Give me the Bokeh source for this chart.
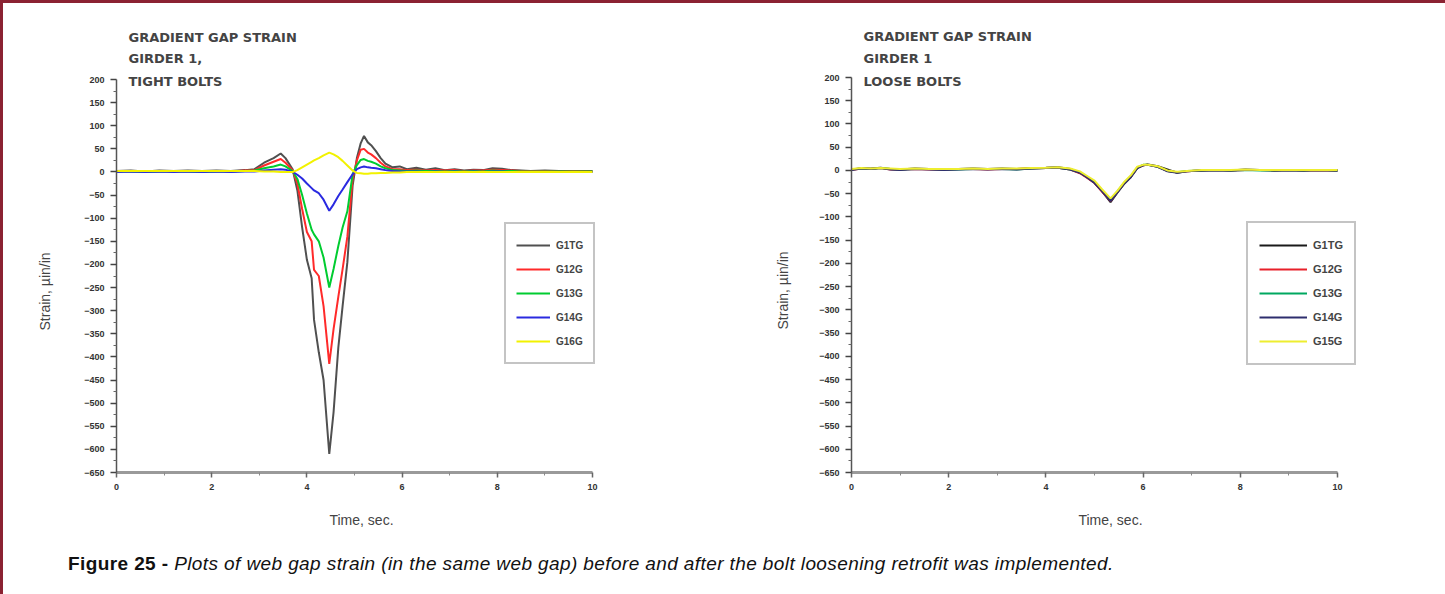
from bokeh.plotting import figure
from bokeh.models import FixedTicker, Label, Legend, LegendItem, Div, Title
from bokeh.layouts import column, row
from bokeh.embed import file_html
from bokeh.resources import INLINE

# ---------------- data ----------------
y_ticks = [200, 150, 100, 50, 0, -50, -100, -150, -200, -250, -300, -350,
           -400, -450, -500, -550, -600, -650]
x_ticks = [0, 2, 4, 6, 8, 10]

left_names = ["G1TG", "G12G", "G13G", "G14G", "G16G"]
right_names = ["G1TG", "G12G", "G13G", "G14G", "G15G"]

t_left = [0.0, 0.3, 0.6, 0.9, 1.2, 1.5, 1.8, 2.1, 2.4, 2.7,
          2.9, 3.1, 3.3, 3.45, 3.55, 3.7,
          3.8, 3.9, 4.0, 4.1, 4.15, 4.25, 4.35, 4.47,
          4.56, 4.66, 4.75, 4.85, 4.96,
          5.05, 5.13, 5.2, 5.28, 5.35, 5.45, 5.55, 5.65, 5.8, 5.95,
          6.1, 6.3, 6.5, 6.7, 6.9, 7.1, 7.3, 7.5, 7.7, 7.9,
          8.1, 8.3, 8.5, 8.7, 9.0, 9.3, 9.6, 10.0]

g1tg_left = [2, 3, 1, 3, 2, 3, 2, 3, 2, 4,
             6, 20, 30, 40, 30, 6,
             -40, -120, -190, -230, -320, -390, -450, -610,
             -520, -380, -290, -195, -30,
             30, 62, 78, 64, 58, 45, 30, 18, 10, 12,
             6, 9, 5, 8, 4, 6, 3, 5, 4, 8,
             7, 4, 3, 2, 3, 2, 2, 2]
g12g_left = [1, 2, 1, 2, 1, 2, 1, 2, 1, 3,
             4, 14, 22, 28, 20, 4,
             -25, -80, -130, -150, -212, -225, -290, -415,
             -340, -270, -210, -140, -15,
             25, 48, 50, 42, 38, 30, 20, 12, 6, 6,
             4, 5, 3, 4, 3, 4, 2, 3, 3, 5,
             4, 3, 2, 2, 2, 1, 2, 1]
g13g_left = [1, 1, 0, 1, 1, 1, 0, 1, 1, 2,
             3, 8, 12, 16, 12, 2,
             -15, -50, -90, -125, -135, -150, -185, -250,
             -210, -160, -120, -85, -5,
             15, 26, 28, 24, 22, 18, 12, 8, 4, 3,
             2, 3, 2, 2, 1, 2, 1, 2, 1, 3,
             2, 2, 1, 1, 1, 1, 1, 1]
g14g_left = [0, 1, 0, 1, 0, 1, 0, 1, 0, 1,
             1, 3, 5, 6, 5, 0,
             -6, -14, -25, -35, -40, -46, -60, -84,
             -70, -52, -38, -22, -5,
             6, 10, 12, 10, 9, 8, 6, 4, 2, 1,
             1, 1, 0, 1, 0, 1, 0, 1, 0, 1,
             1, 0, 0, 0, 0, 0, 0, 0]
g16g_left = [2, 2, 2, 2, 2, 2, 2, 2, 2, 2,
             2, 1, 1, 0, 0, 0,
             4, 10, 16, 22, 25, 30, 36, 42,
             38, 32, 24, 14, 3,
             -2, -3, -4, -4, -3, -3, -2, -2, -1, -1,
             0, 0, 0, 0, 0, 0, 0, 0, 0, 0,
             0, 0, 0, 0, 0, 0, 0, 0]

t_right = [0.0, 0.2, 0.4, 0.6, 0.8, 1.0,
           1.3, 1.6, 1.9, 2.2, 2.5, 2.8,
           3.1, 3.4, 3.7, 4.0, 4.25, 4.5,
           4.7, 4.85, 5.0, 5.15, 5.33,
           5.47, 5.6, 5.75, 5.88, 6.0, 6.1,
           6.3, 6.5, 6.7, 6.9,
           7.2, 7.5, 7.8, 8.1, 8.4, 8.7, 9.0, 9.3, 9.6, 10.0]
g1tg_right = [2, 5, 4, 6, 3, 2, 4, 3, 2, 3, 4, 3, 4, 3, 5, 6, 7, 3,
              -5, -15, -26, -44, -68, -48, -30, -14, 5, 11, 13,
              9, 2, -5, -2, 0, 1, 0, 2, 1, 0, 1, 0, 1, 0]
g12g_right = [1, 4, 3, 5, 2, 2, 3, 2, 2, 3, 3, 2, 3, 3, 4, 5, 6, 2,
              -6, -16, -27, -45, -66, -46, -29, -13, 6, 11, 12,
              8, -1, -4, -2, 0, 1, 0, 1, 1, 0, 1, 0, 0, 0]
g13g_right = [2, 4, 3, 5, 3, 2, 3, 3, 2, 2, 3, 3, 3, 2, 4, 5, 6, 2,
              -4, -14, -25, -42, -63, -45, -28, -12, 6, 12, 12,
              8, -1, -4, -1, 0, 1, 0, 1, 0, 0, 1, 0, 1, 0]
g14g_right = [1, 4, 3, 5, 2, 1, 3, 2, 1, 2, 3, 2, 3, 2, 4, 5, 6, 2,
              -5, -15, -27, -44, -66, -47, -30, -14, 5, 11, 12,
              8, -2, -5, -2, 0, 0, 0, 1, 1, 0, 0, 0, 1, 0]
g15g_right = [3, 5, 4, 5, 4, 3, 4, 3, 3, 3, 4, 3, 4, 4, 5, 6, 7, 4,
              -2, -12, -22, -40, -60, -44, -26, -10, 8, 12, 12,
              9, 0, -3, -1, 1, 1, 1, 2, 1, 1, 1, 1, 1, 1]

left_series = [g1tg_left, g12g_left, g13g_left, g14g_left, g16g_left]
right_series = [g1tg_right, g12g_right, g13g_right, g14g_right, g15g_right]

left_colors = ["#505050", "#ff2a2a", "#00cc30", "#2a2ae0", "#f2f200"]
right_colors = ["#1a1a1a", "#e8202a", "#00a860", "#2e2e6e", "#eeee30"]

FONT = "Liberation Sans"
TITLE_FONT = "DejaVu Sans"


def make_panel(width, height, mb_left, mb_right, mb_top, mb_bottom,
               px_per_x, px_per_y, frame_w, frame_h,
               t, series, names, colors, title_lines, title_ys,
               ylabel_standoff, ylabel_offset, xlabel_standoff,
               legend_loc, legend_glyph_w, legend_pad, legend_font):
    x_end = frame_w / px_per_x
    y_top = -650 + frame_h / px_per_y
    p = figure(width=width, height=height, x_range=(0, x_end),
               y_range=(-650, y_top),
               output_backend="svg", toolbar_location=None,
               min_border_left=mb_left, min_border_right=mb_right,
               min_border_top=mb_top, min_border_bottom=mb_bottom)
    p.outline_line_color = None
    p.grid.visible = False
    p.background_fill_color = "white"
    p.border_fill_color = "white"

    # y axis
    ya = p.yaxis[0]
    ya.bounds = (-650, 200)
    ya.ticker = FixedTicker(ticks=y_ticks,
                            minor_ticks=[v + 25 for v in y_ticks[1:]])
    ya.axis_line_color = "#555555"
    ya.axis_line_width = 1.5
    ya.major_tick_line_color = "#444444"
    ya.major_tick_line_width = 1.5
    ya.major_tick_out = 6
    ya.major_tick_in = 0
    ya.minor_tick_line_color = "#666666"
    ya.minor_tick_out = 3
    ya.minor_tick_in = 0
    ya.major_label_text_font = FONT
    ya.major_label_text_font_style = "bold"
    ya.major_label_text_font_size = "9px"
    ya.major_label_text_color = "#333333"
    ya.major_label_standoff = 6

    # y axis title (placed lower than the frame centre, like the reference)
    p.add_layout(Title(text="Strain, µin/in", align="left",
                       offset=ylabel_offset, standoff=ylabel_standoff,
                       text_font=FONT, text_font_style="normal",
                       text_font_size="14px", text_color="#444444"), "left")

    # x axis
    xa = p.xaxis[0]
    xa.bounds = (0, 10)
    xa.ticker = FixedTicker(ticks=x_ticks, minor_ticks=[1, 3, 5, 7, 9])
    xa.axis_line_color = "#9a9a9a"
    xa.axis_line_width = 3
    xa.major_tick_line_color = "#666666"
    xa.major_tick_line_width = 1.5
    xa.major_tick_out = 5
    xa.major_tick_in = 0
    xa.minor_tick_line_color = "#888888"
    xa.minor_tick_out = 3
    xa.minor_tick_in = 0
    xa.major_label_text_font = FONT
    xa.major_label_text_font_style = "bold"
    xa.major_label_text_font_size = "9px"
    xa.major_label_text_color = "#333333"
    xa.major_label_standoff = 6
    xa.axis_label = "Time, sec."
    xa.axis_label_text_font = FONT
    xa.axis_label_text_font_style = "normal"
    xa.axis_label_text_font_size = "14px"
    xa.axis_label_text_color = "#444444"
    xa.axis_label_standoff = xlabel_standoff

    items = []
    for name, ys, c in zip(names, series, colors):
        r = p.line(t, ys, line_color=c, line_width=2)
        items.append(LegendItem(label=name, renderers=[r]))

    leg = Legend(items=items, location=legend_loc)
    leg.border_line_color = "#8a8a8a"
    leg.border_line_width = 2
    leg.background_fill_color = "white"
    leg.background_fill_alpha = 1
    leg.padding = legend_pad
    leg.margin = 0
    leg.spacing = 2
    leg.label_height = 22
    leg.glyph_height = 22
    leg.glyph_width = legend_glyph_w
    leg.label_standoff = 6
    leg.label_text_font = FONT
    leg.label_text_font_style = "bold"
    leg.label_text_font_size = legend_font
    leg.label_text_color = "#444444"
    p.add_layout(leg)

    for txt, yy in zip(title_lines, title_ys):
        p.add_layout(Label(x=12, y=yy, x_units="screen", y_units="screen",
                           text=txt, text_font=TITLE_FONT,
                           text_font_style="bold",
                           text_font_size="13px", text_color="#444444",
                           text_baseline="middle", text_align="left"))
    return p


# left panel: page x 3..746, frame x 116..606 (0..10 -> 116..592), frame y 8..472
p1 = make_panel(743, 534, 113, 140, 5, 65,
                47.6, 393 / 850, 490, 464,
                t_left, left_series, left_names, left_colors,
                ["GRADIENT GAP STRAIN", "GIRDER 1,", "TIGHT BOLTS"],
                [435, 414, 391], 57, 142, 19, (388, 108), 34, 10, "10px")

# right panel: page x 746..1440, frame x 851..1369 (0..10 -> 851..1337), frame y 8..472
p2 = make_panel(694, 534, 105, 71, 5, 65,
                48.6, 395 / 850, 518, 464,
                t_right, right_series, right_names, right_colors,
                ["GRADIENT GAP STRAIN", "GIRDER 1", "LOOSE BOLTS"],
                [436, 414, 391], 51, 143, 19, (395, 107), 48, 11, "11px")

caption = Div(
    text=('<div style="margin-left:60px; margin-top:8px; '
          'font-family:\'Liberation Sans\', Arial, sans-serif; font-size:19px; '
          'letter-spacing:0.4px; color:#111; white-space:nowrap;">'
          '<b>Figure 25 -</b> <i>Plots of web gap strain (in the same web gap) '
          'before and after the bolt loosening retrofit was implemented.</i></div>'),
    width=1437, height=54)

layout = column(row(p1, p2), caption,
                styles={"border-left": "3px solid #8b2232",
                        "border-right": "3px solid #8b2232",
                        "border-top": "3px solid #8b2232",
                        "background": "white"})

open("out.html", "w").write(file_html(layout, INLINE))
